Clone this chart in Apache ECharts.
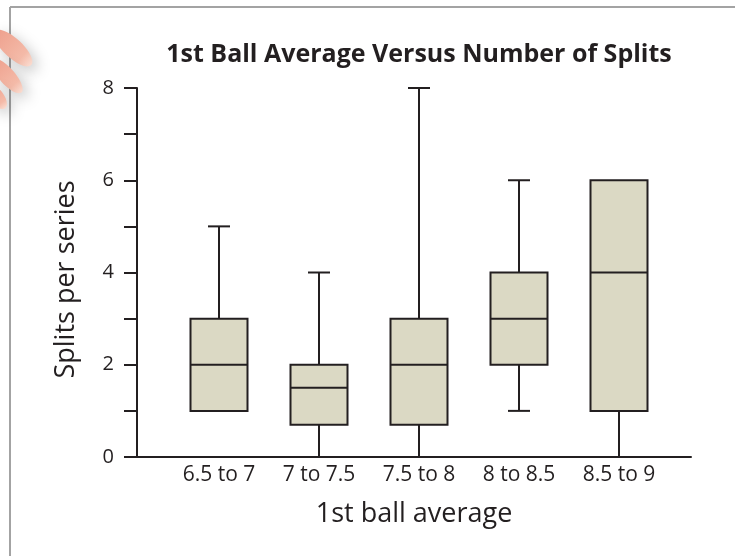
<!DOCTYPE html>
<html>
<head>
<meta charset="utf-8">
<script src="https://cdn.jsdelivr.net/npm/echarts@6/dist/echarts.min.js"></script>
<style>
html,body{margin:0;padding:0;background:#fff;}
#chart{width:735px;height:556px;}
</style>
</head>
<body>
<div id="chart"></div>
<script>
// Data
const categories = ['6.5 to 7', '7 to 7.5', '7.5 to 8', '8 to 8.5', '8.5 to 9'];
const minValues    = [1, 0,   0,   1, 0];
const q1Values     = [1, 0.7, 0.7, 2, 1];
const medianValues = [2, 1.5, 2,   3, 4];
const q3Values     = [3, 2,   3,   4, 6];
const maxValues    = [5, 4,   8,   6, 6];
const yTicks = [0, 2, 4, 6, 8];

const ink = '#231f20';
const boxFill = '#dbd9c4';
const font = '"Open Sans", "Noto Sans", sans-serif';

const seriesData = categories.map((c, i) =>
  [i, minValues[i], q1Values[i], medianValues[i], q3Values[i], maxValues[i]]);

function renderBox(params, api) {
  const x = api.value(0);
  const mn = api.value(1), q1 = api.value(2), md = api.value(3), q3 = api.value(4), mx = api.value(5);
  const band = api.size([1, 0])[0];
  const bw = band * 0.57, cw = band * 0.22;
  const pMin = api.coord([x, mn]), pQ1 = api.coord([x, q1]), pMd = api.coord([x, md]);
  const pQ3 = api.coord([x, q3]), pMax = api.coord([x, mx]);
  const cx = pMd[0];
  const ls = { stroke: ink, lineWidth: 2, fill: null };
  const children = [];
  if (mx > q3) {
    children.push({ type: 'line', shape: { x1: cx, y1: pQ3[1], x2: cx, y2: pMax[1] }, style: ls });
    children.push({ type: 'line', shape: { x1: cx - cw / 2, y1: pMax[1], x2: cx + cw / 2, y2: pMax[1] }, style: ls });
  }
  if (mn < q1) {
    children.push({ type: 'line', shape: { x1: cx, y1: pQ1[1], x2: cx, y2: pMin[1] }, style: ls });
    children.push({ type: 'line', shape: { x1: cx - cw / 2, y1: pMin[1], x2: cx + cw / 2, y2: pMin[1] }, style: ls });
  }
  children.push({ type: 'rect', shape: { x: cx - bw / 2, y: pQ3[1], width: bw, height: pQ1[1] - pQ3[1] },
    style: { fill: boxFill, stroke: ink, lineWidth: 2 } });
  children.push({ type: 'line', shape: { x1: cx - bw / 2, y1: pMd[1], x2: cx + bw / 2, y2: pMd[1] }, style: ls });
  return { type: 'group', children };
}

function finger(x, y, w, h, rot) {
  return {
    type: 'ellipse', x: x, y: y, rotation: rot,
    shape: { cx: 0, cy: 0, rx: w, ry: h },
    style: {
      fill: new echarts.graphic.LinearGradient(0, 0, 1, 0, [
        { offset: 0, color: '#ee9f8c' }, { offset: 0.75, color: '#f4baa8' }, { offset: 1, color: '#fadcd0' }]),
      shadowBlur: 14, shadowColor: 'rgba(0,0,0,0.22)', shadowOffsetX: 5, shadowOffsetY: 5
    },
    z: 10
  };
}

const chart = echarts.init(document.getElementById('chart'), null, { renderer: 'canvas' });
chart.setOption({
  animation: false,
  backgroundColor: '#fff',
  title: {
    text: '1st Ball Average Versus Number of Splits',
    left: 414, top: 37, textAlign: 'center',
    textStyle: { fontFamily: font, fontWeight: 'bold', fontSize: 25, color: ink }
  },
  grid: { left: 137, right: 44, top: 88, bottom: 99, containLabel: false },
  xAxis: {
    type: 'value', min: -0.82, max: 4.72,
    name: '1st ball average', nameLocation: 'middle', nameGap: 44,
    nameTextStyle: { fontFamily: font, fontSize: 27, color: ink, verticalAlign: 'top' },
    axisLine: { show: true, onZero: false, lineStyle: { color: ink, width: 2 } },
    axisTick: { show: false },
    splitLine: { show: false },
    axisLabel: {
      customValues: [0, 1, 2, 3, 4],
      formatter: v => categories[Math.round(v)] || '',
      fontFamily: font, fontSize: 21, color: ink, margin: 8
    }
  },
  yAxis: {
    type: 'value', min: 0, max: 8, interval: 1,
    name: 'Splits per series', nameLocation: 'middle', nameRotate: 90, nameGap: 57,
    nameTextStyle: { fontFamily: font, fontSize: 27, color: ink, padding: [0, 14, 0, 0] },
    axisLine: { show: true, onZero: false, lineStyle: { color: ink, width: 2 } },
    axisTick: { show: true, length: 13, lineStyle: { color: ink, width: 2 } },
    splitLine: { show: false },
    axisLabel: {
      formatter: v => (yTicks.indexOf(v) >= 0 ? String(v) : ''),
      fontFamily: font, fontSize: 20, color: ink, margin: 23
    }
  },
  series: [{
    type: 'custom',
    renderItem: renderBox,
    encode: { x: 0, y: [1, 2, 3, 4, 5] },
    data: seriesData,
    clip: false
  }],
  graphic: [
    { type: 'line', shape: { x1: 10, y1: 7, x2: 735, y2: 7 }, style: { stroke: '#a3a3a3', lineWidth: 2 }, z: 5 },
    { type: 'line', shape: { x1: 10, y1: 7, x2: 10, y2: 556 }, style: { stroke: '#a3a3a3', lineWidth: 2 }, z: 5 },
    finger(13, 48, 25, 9.5, -0.75),
    finger(7, 76, 22, 8, -0.85),
    finger(-3, 97, 14, 7, -0.95)
  ]
});
</script>
</body>
</html>
